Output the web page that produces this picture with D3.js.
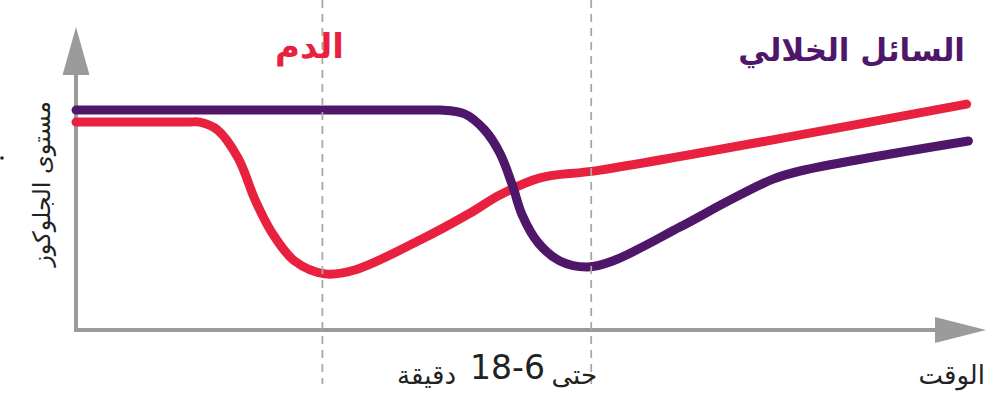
<!DOCTYPE html>
<html>
<head>
<meta charset="utf-8">
<script src="https://cdn.jsdelivr.net/npm/d3@7"></script>
<style>
  html, body { margin: 0; padding: 0; background: #fff; }
  svg { display: block; }
</style>
</head>
<body>
<svg id="chart"></svg>
<script>
// Glucose level over time — blood vs interstitial fluid
const WIDTH = 1000, HEIGHT = 398;

// time units (0..100) vs glucose level (0..100)
const bloodTime  = [0, 1, 12.5, 13.8, 15.8, 18.1, 20, 21.9, 24.4, 27.8, 31.1, 38.4, 44, 47.3, 51.8, 58.5, 99.4];
const bloodLevel = [69.3, 69.3, 69.3, 69.3, 66.7, 57.3, 43.3, 32.3, 23, 18.7, 20, 30, 39, 45, 50.7, 53.3, 75.3];

const fluidTime  = [0, 1, 39.3, 40.6, 43.4, 45.6, 47.3, 48.7, 49.8, 51.6, 54, 57.1, 59.9, 67.4, 73, 77.8, 80.8, 99.6];
const fluidLevel = [73.3, 73.3, 73.3, 73.3, 72, 66.7, 59, 48.3, 38.3, 29, 23, 21, 23, 34.3, 43.3, 50.3, 53, 63];

const markerTimes = [27.5, 57.5];

const labelBlood = 'الدم';
const labelFluid = 'السائل الخلالي';
const yTitle = 'مستوى الجلوكوز';
const xTitle = 'الوقت';

const COLOR_BLOOD = '#e8213f';
const COLOR_FLUID = '#4f176a';
const COLOR_AXIS  = '#9b9b9b';
const COLOR_DASH  = '#a8a8a8';

const svg = d3.select('#chart')
  .attr('width', WIDTH)
  .attr('height', HEIGHT)
  .style('font-family', '"DejaVu Sans", sans-serif');

const x = d3.scaleLinear().domain([0, 100]).range([76, 972]);
const y = d3.scaleLinear().domain([0, 100]).range([330, 30]);

// Axes (plain arrows, no ticks)
svg.append('line')
  .attr('x1', x(0)).attr('x2', x(0))
  .attr('y1', y(0) + 1.5).attr('y2', 74)
  .attr('stroke', COLOR_AXIS).attr('stroke-width', 4);
svg.append('path')
  .attr('d', `M${x(0)},27 L${x(0) + 13.5},75 L${x(0) - 13.5},75 Z`)
  .attr('fill', COLOR_AXIS);

svg.append('line')
  .attr('x1', x(0) - 2).attr('x2', 937)
  .attr('y1', y(0)).attr('y2', y(0))
  .attr('stroke', COLOR_AXIS).attr('stroke-width', 4);
svg.append('path')
  .attr('d', `M986,${y(0)} L935,${y(0) - 13} L935,${y(0) + 13} Z`)
  .attr('fill', COLOR_AXIS);

const line = d3.line()
  .x(d => x(d[0]))
  .y(d => y(d[1]))
  .curve(d3.curveCatmullRom.alpha(0.5));

svg.append('path')
  .datum(bloodTime.map((t, i) => [t, bloodLevel[i]]))
  .attr('d', line)
  .attr('fill', 'none')
  .attr('stroke', COLOR_BLOOD)
  .attr('stroke-width', 9)
  .attr('stroke-linecap', 'round');

svg.append('path')
  .datum(fluidTime.map((t, i) => [t, fluidLevel[i]]))
  .attr('d', line)
  .attr('fill', 'none')
  .attr('stroke', COLOR_FLUID)
  .attr('stroke-width', 9)
  .attr('stroke-linecap', 'round');

// dashed time markers, drawn over the curves
svg.selectAll('line.marker')
  .data(markerTimes)
  .enter()
  .append('line')
  .attr('class', 'marker')
  .attr('x1', d => x(d)).attr('x2', d => x(d))
  .attr('y1', 0).attr('y2', 384)
  .attr('stroke', COLOR_DASH)
  .attr('stroke-width', 1.8)
  .attr('stroke-dasharray', '8,6');

// series labels
svg.append('text')
  .attr('x', 344).attr('y', 58)
  .attr('text-anchor', 'end')
  .attr('font-size', 34).attr('font-weight', 'bold')
  .attr('fill', COLOR_BLOOD)
  .text(labelBlood);

svg.append('text')
  .attr('x', 965).attr('y', 61)
  .attr('text-anchor', 'end')
  .attr('font-size', 31).attr('font-weight', 'bold')
  .attr('fill', COLOR_FLUID)
  .text(labelFluid);

// axis titles
svg.append('text')
  .attr('transform', 'translate(50,184) rotate(-90)')
  .attr('text-anchor', 'middle')
  .attr('font-size', 24)
  .attr('fill', '#222')
  .text(yTitle);

svg.append('circle')
  .attr('cx', 2).attr('cy', 158).attr('r', 1.8)
  .attr('fill', '#222');

svg.append('text')
  .attr('x', 985).attr('y', 384)
  .attr('text-anchor', 'end')
  .attr('font-size', 26)
  .attr('fill', '#222')
  .text(xTitle);

// "حتى 18-6 دقيقة" as three pieces so the order stays as in the picture
svg.append('text')
  .attr('x', 597).attr('y', 384)
  .attr('text-anchor', 'end')
  .attr('font-size', 26).attr('fill', '#222')
  .text('حتى');
svg.append('text')
  .attr('x', 545).attr('y', 379)
  .attr('text-anchor', 'end')
  .attr('font-size', 33).attr('fill', '#222')
  .text('18-6');
svg.append('text')
  .attr('x', 456).attr('y', 384)
  .attr('text-anchor', 'end')
  .attr('font-size', 26).attr('fill', '#222')
  .text('دقيقة');
</script>
</body>
</html>
